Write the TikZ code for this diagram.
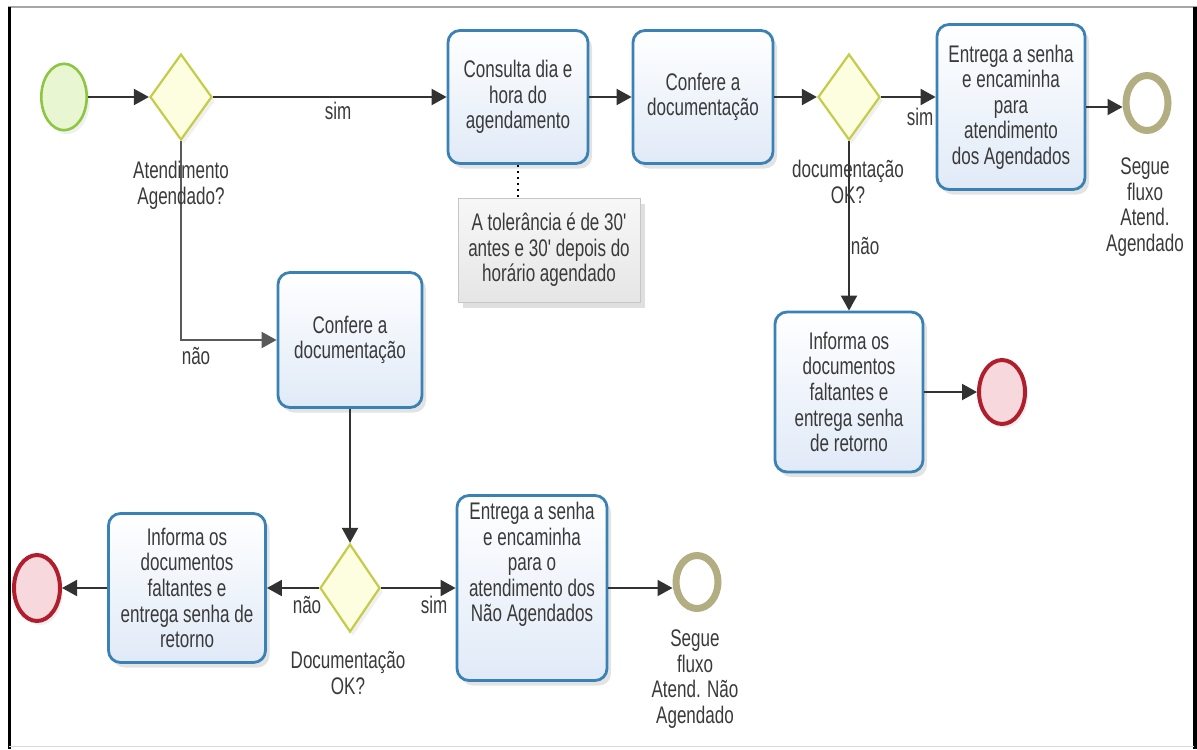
\documentclass[tikz,border=0pt]{standalone}
\usepackage{fontspec}
\newfontfamily\fontbpmn[FakeStretch=0.71]{Liberation Sans}
\usepackage{tikz}
\usetikzlibrary{arrows.meta, shapes.geometric, shadows}

\definecolor{azulborda}{RGB}{58,130,182}
\definecolor{azulfundo}{RGB}{224,234,247}
\definecolor{verdeborda}{RGB}{140,198,66}
\definecolor{verdefundo}{RGB}{233,246,210}
\definecolor{amareloborda}{RGB}{196,204,74}
\definecolor{amarelofundo}{RGB}{253,253,224}
\definecolor{vermelhoborda}{RGB}{176,30,46}
\definecolor{vermelhofundo}{RGB}{247,216,221}
\definecolor{olivaborda}{RGB}{178,174,130}
\definecolor{texto}{RGB}{58,58,58}
\definecolor{linha}{RGB}{50,50,50}

\tikzset{
  letra/.style={font=\fontbpmn\fontsize{12}{12.8}\selectfont, text=texto},
  tarefa/.style={letra, rectangle, rounded corners=6pt, draw=azulborda, line width=1.4pt,
    top color=white, bottom color=azulfundo, align=center, inner sep=3pt,
    drop shadow={shadow xshift=2pt, shadow yshift=-2.5pt, opacity=0.22}},
  gateway/.style={diamond, draw=amareloborda, line width=1.1pt, fill=amarelofundo,
    minimum width=31pt, minimum height=43pt, inner sep=0pt,
    drop shadow={shadow xshift=1.5pt, shadow yshift=-2pt, opacity=0.12}},
  inicio/.style={ellipse, draw=verdeborda, line width=1.3pt, fill=verdefundo,
    minimum width=22.7pt, minimum height=33.2pt, inner sep=0pt,
    drop shadow={shadow xshift=1.5pt, shadow yshift=-2pt, opacity=0.12}},
  fimerro/.style={ellipse, draw=vermelhoborda, line width=2pt, fill=vermelhofundo,
    minimum width=23pt, minimum height=32pt, inner sep=0pt,
    drop shadow={shadow xshift=1.5pt, shadow yshift=-2pt, opacity=0.12}},
  fimsegue/.style={ellipse, draw=olivaborda, line width=3.5pt, fill=white,
    minimum width=21pt, minimum height=27.5pt, inner sep=0pt},
  nota/.style={letra, rectangle, draw=gray!45, top color=gray!6, bottom color=gray!20,
    align=center, inner sep=2pt,
    drop shadow={shadow xshift=2.5pt, shadow yshift=-3pt, opacity=0.25}},
  rotulo/.style={letra, align=center, inner sep=0pt},
  fluxo/.style={draw=linha, line width=1pt, -{Triangle[length=7.5pt, width=8pt]}}
}

\begin{document}
\begin{tikzpicture}[x=0.5pt, y=-0.5pt]
\useasboundingbox (0,0) rectangle (1197,749);

% Moldura
\draw[gray!70, line width=1pt] (8,7) -- (1197,7);
\draw[black, line width=1.2pt] (9.5,7) -- (9.5,749);
\draw[black, line width=2pt] (1195,7) -- (1195,749);
\draw[gray!30, line width=0.8pt] (9,746.5) -- (1194,746.5);

% Fluxo dos agendados
\node[inicio] (inicio) at (64,97) {};
\node[gateway] (gwAgend) at (181,97) {};
\node[tarefa, minimum width=70pt, minimum height=66.5pt] (consulta) at (518,97)
  {Consulta dia e\\hora do\\agendamento};
\node[tarefa, minimum width=70pt, minimum height=66.5pt] (confereA) at (703,97)
  {Confere a\\documentação};
\node[gateway] (gwDocA) at (849,97) {};
\node[tarefa, minimum width=74pt, minimum height=82.5pt] (entregaA) at (1011,107)
  {Entrega a senha\\e encaminha\\para\\atendimento\\dos Agendados};
\node[fimsegue] (fimA) at (1147,103) {};
\node[nota, minimum width=91pt, minimum height=52pt] (nota) at (549,250)
  {A tolerância é de 30'\\antes e 30' depois do\\horário agendado};
\node[tarefa, minimum width=74pt, minimum height=80pt] (informaA) at (849,392)
  {Informa os\\documentos\\faltantes e\\entrega senha\\de retorno};
\node[fimerro] (fimErroA) at (1002,392) {};

% Fluxo dos nao agendados
\node[tarefa, minimum width=72pt, minimum height=67.5pt] (confereN) at (350,340)
  {Confere a\\documentação};
\node[gateway, minimum width=30pt, minimum height=44pt] (gwDocN) at (350,588) {};
\node[tarefa, minimum width=78.5pt, minimum height=74.5pt] (informaN) at (187,588)
  {Informa os\\documentos\\faltantes e\\entrega senha de\\retorno};
\node[fimerro, minimum height=33pt] (fimErroN) at (37,588) {};
\node[tarefa, minimum width=75pt, minimum height=92.5pt, text depth=26pt] (entregaN) at (532,588)
  {Entrega a senha\\e encaminha\\para o\\atendimento dos\\Não Agendados};
\node[fimsegue, minimum height=26.5pt] (fimN) at (697,582) {};

% Conectores
\draw[fluxo] (inicio) -- (gwAgend);
\draw[fluxo] (gwAgend) -- (consulta);
\draw[fluxo] (consulta) -- (confereA);
\draw[fluxo] (confereA) -- (gwDocA);
\draw[fluxo] (gwDocA.east) -- (gwDocA.east -| entregaA.west);
\draw[fluxo] (entregaA.east) -- (entregaA.east -| fimA.west);
\draw[fluxo] (gwDocA) -- (informaA);
\draw[fluxo] (informaA) -- (fimErroA);
\draw[dotted, line width=1pt] (consulta.south) -- (consulta.south |- nota.north);
\draw[fluxo, draw=gray!70!black] (gwAgend.south) |- (confereN.west);
\draw[fluxo] (confereN) -- (gwDocN);
\draw[fluxo] (gwDocN) -- (informaN);
\draw[fluxo] (informaN) -- (fimErroN);
\draw[fluxo] (gwDocN) -- (entregaN);
\draw[fluxo] (entregaN.east) -- (entregaN.east -| fimN.west);

% Rotulos
\node[rotulo] (lblAgend) at (181,185) {Atendimento\\Agendado?};
\node[rotulo] (lblSimA) at (338,111) {sim};
\node[rotulo] (lblDocA) at (848,182) {documentação\\OK?};
\node[rotulo] (lblSimB) at (920,117) {sim};
\node[rotulo] (lblNaoA) at (865,246) {não};
\node[rotulo] (lblNaoB) at (196,356) {não};
\node[rotulo] (lblSegueA) at (1145,207) {Segue\\fluxo\\Atend.\\Agendado};
\node[rotulo] (lblDocN) at (348,673) {Documentação\\OK?};
\node[rotulo] (lblNaoC) at (307,605) {não};
\node[rotulo] (lblSimC) at (434,605) {sim};
\node[rotulo] (lblSegueN) at (695,679) {Segue\\fluxo\\Atend. Não\\Agendado};

\end{tikzpicture}
\end{document}
